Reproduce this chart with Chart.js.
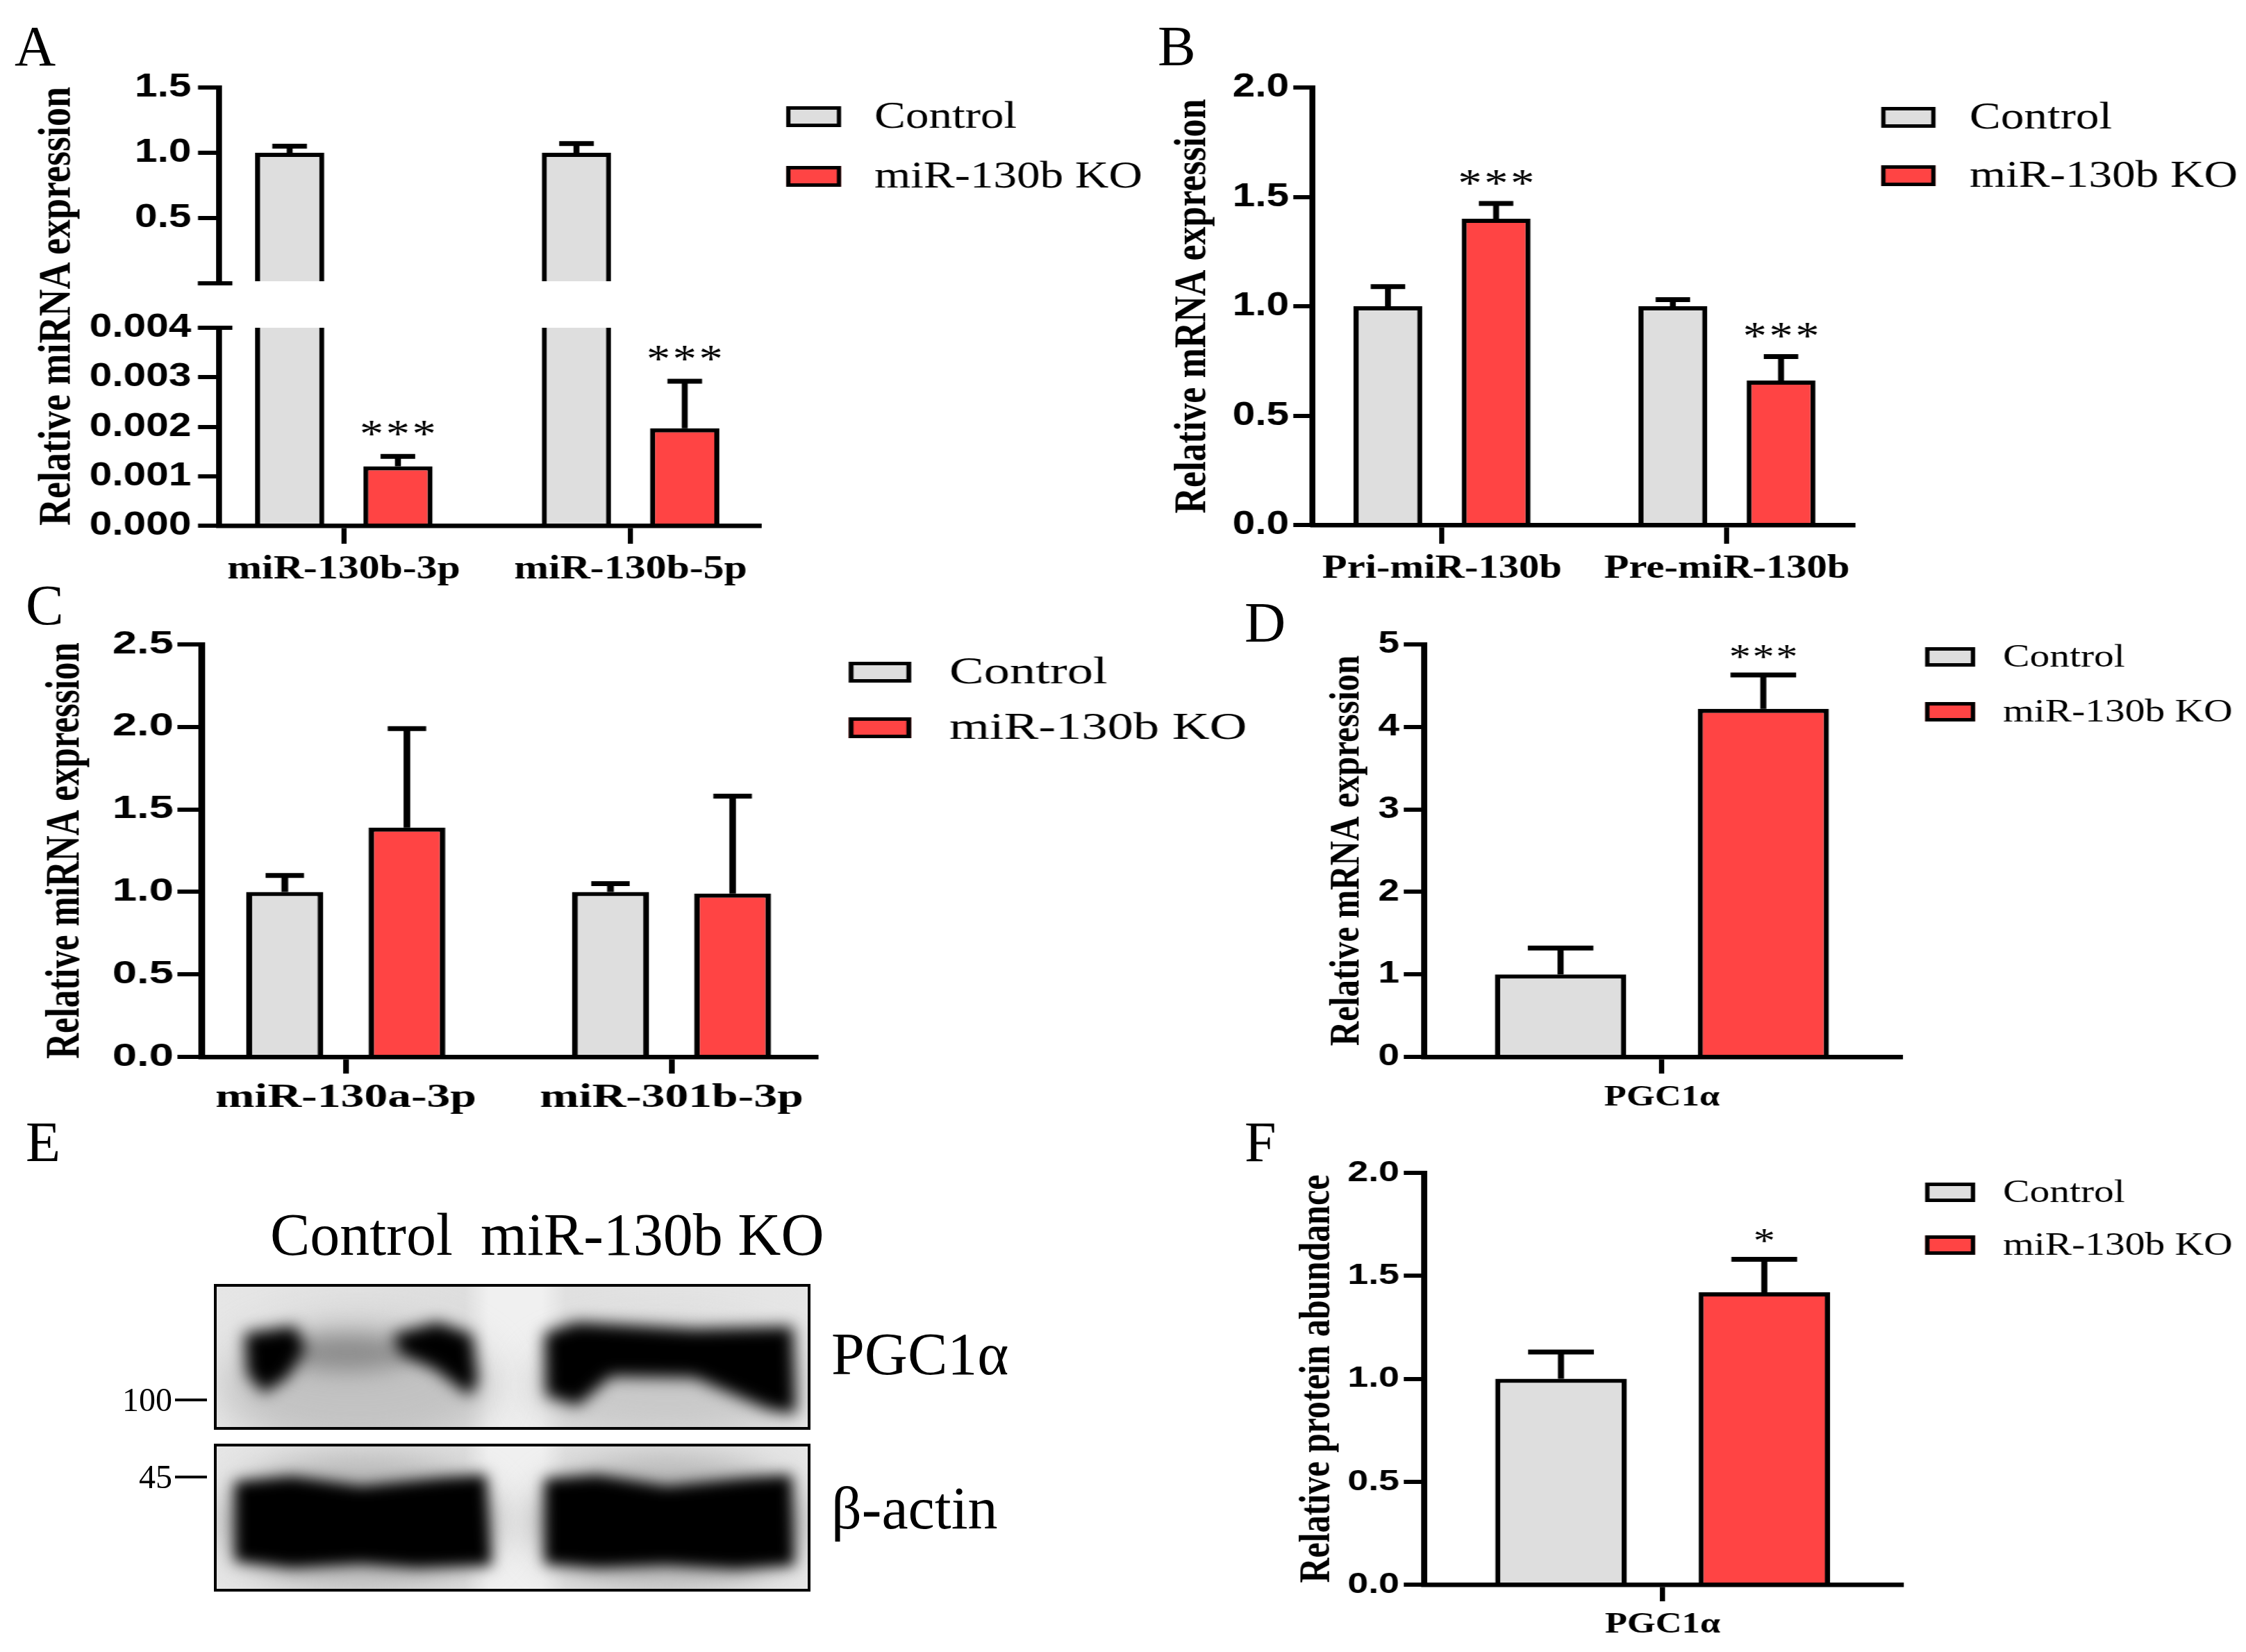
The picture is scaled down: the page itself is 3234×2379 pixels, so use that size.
<!DOCTYPE html>
<html>
<head>
<meta charset="utf-8">
<script src="https://cdn.jsdelivr.net/npm/chart.js@4.4.0/dist/chart.umd.min.js"></script>
<style>
  html, body { margin: 0; padding: 0; background: #fff; }
  #fig { position: relative; width: 3234px; height: 2379px; overflow: hidden; background: #fff; }
  .panel { position: absolute; transform-origin: 0 0; }
  .box { position: absolute; }
  .txt { position: absolute; font-family: 'Liberation Serif', 'Times New Roman', serif; color: #000; white-space: nowrap; }
</style>
</head>
<body>
<div id="fig"></div>
<script>
// ---- data ----
const groups = ['Control', 'miR-130b KO'];

// A: miRNA, broken axis
const aCats = ['miR-130b-3p', 'miR-130b-5p'];
const aControl = [1.0, 1.0];
const aControlErr = [0.05, 0.07];
const aKO = [0.0012, 0.00197];
const aKOErr = [0.0002, 0.00095];
const aSig = ['***', '***'];

// B: precursor mRNA
const bCats = ['Pri-miR-130b', 'Pre-miR-130b'];
const bControl = [1.0, 1.0];
const bControlErr = [0.09, 0.03];
const bKO = [1.40, 0.66];
const bKOErr = [0.07, 0.11];
const bSig = ['***', '***'];

// C: related miRNAs
const cCats = ['miR-130a-3p', 'miR-301b-3p'];
const cControl = [1.0, 1.0];
const cControlErr = [0.10, 0.05];
const cKO = [1.39, 0.99];
const cKOErr = [0.60, 0.59];

// D: PGC1a mRNA
const dCats = ['PGC1α'];
const dControl = [1.0];
const dControlErr = [0.32];
const dKO = [4.22];
const dKOErr = [0.41];
const dSig = ['***'];

// F: PGC1a protein
const fCats = ['PGC1α'];
const fControl = [1.0];
const fControlErr = [0.13];
const fKO = [1.42];
const fKOErr = [0.16];
const fSig = ['*'];

// axis ranges
const aUpperAxis = { min: 0, max: 1.5, step: 0.5 };
const aLowerAxis = { min: 0, max: 0.004, step: 0.001 };
const bAxis = { min: 0, max: 2.0, step: 0.5 };
const cAxis = { min: 0, max: 2.5, step: 0.5 };
const dAxis = { min: 0, max: 5, step: 1 };
const fAxis = { min: 0, max: 2.0, step: 0.5 };

const GRAY = '#dedede';
const RED = '#ff4444';
const SERIF = "'Liberation Serif', 'Times New Roman', serif";
const SANS = "'Liberation Sans', Arial, sans-serif";

Chart.defaults.animation = false;
Chart.defaults.color = '#000';

const fig = document.getElementById('fig');

function addText(str, x, cy, size, extra, parent) {
  const d = document.createElement('div');
  d.className = 'txt';
  d.textContent = str;
  d.style.left = x + 'px';
  d.style.top = (cy - size / 2) + 'px';
  d.style.fontSize = size + 'px';
  d.style.lineHeight = size + 'px';
  Object.assign(d.style, extra || {});
  (parent || fig).appendChild(d);
  return d;
}

function makePanel(P) {
  const p = document.createElement('div');
  p.className = 'panel';
  p.style.left = P.L + 'px';
  p.style.top = P.T + 'px';
  p.style.width = (P.W / P.S) + 'px';
  p.style.height = P.H + 'px';
  p.style.transform = 'scaleX(' + P.S + ')';
  fig.appendChild(p);
  return p;
}

// error bars + significance marks
const errorBarPlugin = {
  id: 'errorBars',
  afterDatasetsDraw(chart, args, o) {
    const ctx = chart.ctx;
    chart.data.datasets.forEach((ds, i) => {
      if (!ds.errors) return;
      const meta = chart.getDatasetMeta(i);
      const yScale = chart.scales[meta.yAxisID];
      meta.data.forEach((bar, j) => {
        const v = ds.data[j], e = ds.errors[j];
        if (v == null || e == null) return;
        const yTop = yScale.getPixelForValue(v + e);
        const half = bar.width * o.cap / 2;
        ctx.save();
        ctx.strokeStyle = '#000';
        ctx.lineWidth = o.width;
        ctx.beginPath();
        ctx.moveTo(bar.x, bar.y);
        ctx.lineTo(bar.x, yTop);
        ctx.moveTo(bar.x - half, yTop);
        ctx.lineTo(bar.x + half, yTop);
        ctx.stroke();
        const mark = ds.marks && ds.marks[j];
        if (mark) {
          ctx.fillStyle = '#000';
          ctx.font = o.markSize + 'px ' + SERIF;
          ctx.textAlign = 'left';
          ctx.textBaseline = 'alphabetic';
          const chars = mark.split('');
          const cw = chars.map(ch => ctx.measureText(ch).width);
          const total = cw.reduce((s, w) => s + w, 0) + o.markSpace * (chars.length - 1);
          let x = bar.x - total / 2;
          chars.forEach((ch, k) => {
            ctx.fillText(ch, x, yTop - o.markGap);
            x += cw[k] + o.markSpace;
          });
        }
        ctx.restore();
      });
    });
  }
};

// legend drawn beside the plot
const legendPlugin = {
  id: 'legendBox',
  afterDraw(chart, args, o) {
    const ctx = chart.ctx;
    chart.data.datasets.forEach((ds, i) => {
      const cy = o.ys[i];
      ctx.save();
      ctx.fillStyle = ds.backgroundColor;
      ctx.fillRect(o.x, cy - o.h / 2, o.w, o.h);
      ctx.lineWidth = 5;
      ctx.strokeStyle = '#000';
      ctx.strokeRect(o.x + 2.5, cy - o.h / 2 + 2.5, o.w - 5, o.h - 5);
      ctx.fillStyle = '#000';
      ctx.font = o.size + 'px ' + SERIF;
      ctx.textAlign = 'left';
      ctx.textBaseline = 'middle';
      ctx.fillText(ds.label, o.tx, cy + 2);
      ctx.restore();
    });
  }
};

// break marks on the split axis of panel A
const breakPlugin = {
  id: 'axisBreak',
  afterDraw(chart, args, o) {
    const a = chart.chartArea, ctx = chart.ctx;
    const y = o.edge === 'bottom' ? a.bottom : a.top;
    ctx.save();
    ctx.strokeStyle = '#000';
    ctx.lineWidth = 6;
    ctx.beginPath();
    ctx.moveTo(a.left - o.left, y);
    ctx.lineTo(a.left + o.right, y);
    ctx.stroke();
    ctx.restore();
  }
};

function makeChart(panel, P, c) {
  const S = P.S;
  const holder = document.createElement('div');
  holder.className = 'box';
  holder.style.left = '0px';
  holder.style.top = (c.top - P.T) + 'px';
  holder.style.width = (P.W / S) + 'px';
  holder.style.height = c.h + 'px';
  const canvas = document.createElement('canvas');
  holder.appendChild(canvas);
  panel.appendChild(holder);

  const xH = c.showX ? c.xH : 0;
  const yW = (c.area.l - P.L) / S;
  const padR = (P.L + P.W - c.area.r) / S;
  const padT = c.area.t - c.top;
  const padB = c.top + c.h - c.area.b - xH;

  // where the category centres sit along the axis (full-size pixels)
  let mapStart = null, mapRange = null;
  if (c.centers) {
    const span = c.centers[1] - c.centers[0];
    mapStart = -(c.centers[0] - c.area.l) / span;
    mapRange = (c.area.r - c.area.l) / span;
  }

  const legend = c.legend ? {
    x: (c.legend.x - P.L) / S, w: c.legend.w / S, h: c.legend.h,
    ys: c.legend.ys.map(y => y - c.top), tx: (c.legend.tx - P.L) / S, size: c.legend.size
  } : false;

  const title = c.title ? {
    display: true, text: c.title.text, color: '#000',
    font: { family: SERIF, size: c.title.size, weight: 'bold', lineHeight: 1 },
    padding: { top: (c.title.x - P.L) / S - c.title.size / 2, bottom: 0 }
  } : { display: false };

  return new Chart(canvas, {
    type: 'bar',
    data: { labels: c.cats, datasets: c.datasets },
    options: {
      responsive: true,
      maintainAspectRatio: false,
      layout: { padding: { left: 0, right: padR, top: padT, bottom: padB } },
      datasets: {
        bar: { categoryPercentage: c.cp, barPercentage: c.bp, borderWidth: 6, borderColor: '#000', clip: 0 }
      },
      plugins: {
        legend: { display: false },
        tooltip: { enabled: false },
        legendBox: legend,
        errorBars: { cap: c.cap, width: 7, markSize: c.markSize || 56, markSpace: c.markSpace || 0, markGap: c.markGap || 10 },
        axisBreak: c.brk ? { edge: c.brk, left: c.yTl, right: 16 } : false
      },
      scales: {
        x: {
          display: c.showX,
          offset: true,
          z: 1,
          grid: { display: true, drawOnChartArea: false, drawTicks: true, offset: false,
                  tickLength: c.xTl, tickWidth: 6, tickColor: '#000', color: '#000', lineWidth: 6 },
          border: { display: true, color: '#000', width: 6.5 },
          ticks: { autoSkip: false, maxRotation: 0, color: '#000', padding: c.xPad,
                   font: { family: SERIF, size: c.catSize, weight: 'bold', lineHeight: 1 } },
          afterBuildTicks: s => {
            if (mapStart !== null) { s._startValue = mapStart; s._valueRange = mapRange; }
          },
          afterFit: s => { s.height = xH; }
        },
        y: {
          min: c.axis.min, max: c.axis.max, z: 1,
          grid: { display: true, drawOnChartArea: false, drawTicks: true,
                  tickLength: c.yTl, tickWidth: 6, tickColor: '#000', color: '#000', lineWidth: 6 },
          border: { display: true, color: '#000', width: 7 },
          ticks: { stepSize: c.axis.step, color: '#000', padding: c.yPad, callback: c.fmt,
                   font: { family: SANS, size: c.tickSize, weight: 'bold', lineHeight: 1 } },
          title: title,
          afterFit: s => { s.width = yW; }
        }
      }
    },
    plugins: [errorBarPlugin, legendPlugin, breakPlugin]
  });
}

function dsPair(ctrl, ctrlErr, ko, koErr, sig) {
  return [
    { label: groups[0], data: ctrl, errors: ctrlErr, backgroundColor: GRAY },
    { label: groups[1], data: ko, errors: koErr, marks: sig, backgroundColor: RED }
  ];
}

// ---- Panel A (split axis: two stacked plots) ----
const PA = { L: 0, T: 0, W: 1700, H: 880, S: 1.22 };
const pa = makePanel(PA);
const aCommon = {
  cats: aCats, centers: [495, 908], cp: 0.755, bp: 0.64, cap: 0.5,
  tickSize: 48, catSize: 49, xTl: 26, xPad: 12.5, yTl: 24.5, yPad: 8,
  markSize: 56, markSpace: 3, markGap: 13
};
makeChart(pa, PA, Object.assign({}, aCommon, {
  top: 0, h: 440, area: { l: 315, r: 1093, t: 126, b: 419 }, showX: false,
  datasets: [
    { label: groups[0], data: aControl, errors: aControlErr, backgroundColor: GRAY },
    { label: groups[1], data: aCats.map(() => null), backgroundColor: RED }
  ],
  axis: aUpperAxis, fmt: v => (v === 0 ? '' : v.toFixed(1)), brk: 'bottom',
  legend: { x: 1132, w: 79, h: 30, ys: [168, 254], tx: 1259, size: 55 }
}));
makeChart(pa, PA, Object.assign({}, aCommon, {
  top: 440, h: 440, area: { l: 315, r: 1093, t: 466, b: 757 }, showX: true, xH: 100,
  datasets: [
    { label: groups[0], data: aControl, backgroundColor: GRAY },
    { label: groups[1], data: aKO, errors: aKOErr, marks: aSig, backgroundColor: RED }
  ],
  axis: aLowerAxis, fmt: v => v.toFixed(3), brk: 'top'
}));
addText('Relative miRNA expression', 78 / PA.S, 441, 54,
  { fontWeight: 'bold', transform: 'translate(-50%, 0) rotate(-90deg)', transformOrigin: '50% 50%' }, pa);

// ---- Panel B ----
const PB = { L: 1640, T: 0, W: 1594, H: 880, S: 1.22 };
makeChart(makePanel(PB), PB, {
  top: 0, h: 880, area: { l: 1890, r: 2667, t: 126, b: 756 }, showX: true, xH: 100,
  cats: bCats, centers: [2076, 2486], datasets: dsPair(bControl, bControlErr, bKO, bKOErr, bSig),
  axis: bAxis, fmt: v => v.toFixed(1),
  cp: 0.759, bp: 0.637, cap: 0.5, tickSize: 48, catSize: 48, xTl: 27, xPad: 12.5, yTl: 23, yPad: 5,
  markSize: 56, markSpace: 3, markGap: 10,
  title: { text: 'Relative mRNA expression', x: 1719, size: 52 },
  legend: { x: 2708, w: 78, h: 30, ys: [169, 253], tx: 2835, size: 55 }
});

// ---- Panel C ----
const PC = { L: 0, T: 880, W: 1800, H: 760, S: 1.38 };
makeChart(makePanel(PC), PC, {
  top: 880, h: 760, area: { l: 290, r: 1175, t: 928, b: 1522 }, showX: true, xH: 100,
  cats: cCats, centers: [498, 967], datasets: dsPair(cControl, cControlErr, cKO, cKOErr, null),
  axis: cAxis, fmt: v => v.toFixed(1),
  cp: 0.75, bp: 0.63, cap: 0.5, tickSize: 46, catSize: 49, xTl: 24, xPad: 10.5, yTl: 25, yPad: 4,
  title: { text: 'Relative miRNA expression', x: 95, size: 51 },
  legend: { x: 1222, w: 90, h: 30, ys: [968, 1048], tx: 1367, size: 54 }
});

// ---- Panel D ----
const PD = { L: 1780, T: 880, W: 1454, H: 760, S: 1.25 };
makeChart(makePanel(PD), PD, {
  top: 880, h: 760, area: { l: 2050, r: 2736, t: 928, b: 1522 }, showX: true, xH: 100,
  cats: dCats, datasets: dsPair(dControl, dControlErr, dKO, dKOErr, dSig),
  axis: dAxis, fmt: v => String(v),
  cp: 0.851, bp: 0.647, cap: 0.5, tickSize: 44, catSize: 42, xTl: 24, xPad: 14, yTl: 23, yPad: 5,
  markSize: 50, markSpace: 2, markGap: 10,
  title: { text: 'Relative mRNA expression', x: 1941, size: 49 },
  legend: { x: 2772, w: 72, h: 28, ys: [946, 1025], tx: 2884, size: 46 }
});

// ---- Panel F ----
const PF = { L: 1780, T: 1640, W: 1454, H: 739, S: 1.25 };
makeChart(makePanel(PF), PF, {
  top: 1640, h: 739, area: { l: 2050, r: 2738, t: 1689, b: 2282 }, showX: true, xH: 90,
  cats: fCats, datasets: dsPair(fControl, fControlErr, fKO, fKOErr, fSig),
  axis: fAxis, fmt: v => v.toFixed(1),
  cp: 0.851, bp: 0.647, cap: 0.5, tickSize: 43, catSize: 42, xTl: 24, xPad: 13, yTl: 23, yPad: 5,
  markSize: 50, markSpace: 2, markGap: 11,
  title: { text: 'Relative protein abundance', x: 1898, size: 50 },
  legend: { x: 2772, w: 72, h: 28, ys: [1717, 1793], tx: 2884, size: 46 }
});

// ---- Panel E: western blot picture ----
function drawBlot() {
  const oy = 1600;
  const c = document.createElement('canvas');
  c.width = 1300; c.height = 760;
  c.style.position = 'absolute'; c.style.left = '0px'; c.style.top = oy + 'px';
  fig.appendChild(c);
  const g = c.getContext('2d');
  const boxes = [[310, 1851, 1165, 2057], [310, 2081, 1165, 2290]];

  function poly(pts, color, blur) {
    g.save();
    g.filter = 'blur(' + blur + 'px)';
    g.fillStyle = color;
    g.beginPath();
    pts.forEach((p, i) => (i ? g.lineTo(p[0], p[1] - oy) : g.moveTo(p[0], p[1] - oy)));
    g.closePath();
    g.fill();
    g.restore();
  }
  function blob(cx, cy, rx, ry, color, blur) {
    g.save();
    g.filter = 'blur(' + blur + 'px)';
    g.fillStyle = color;
    g.beginPath();
    g.ellipse(cx, cy - oy, rx, ry, 0, 0, Math.PI * 2);
    g.fill();
    g.restore();
  }

  boxes.forEach(([x0, y0, x1, y1]) => {
    g.save();
    g.beginPath();
    g.rect(x0, y0 - oy, x1 - x0, y1 - y0);
    g.clip();
    const grd = g.createLinearGradient(x0, 0, x1, 0);
    grd.addColorStop(0, '#e6e6e6');
    grd.addColorStop(0.42, '#dedede');
    grd.addColorStop(0.46, '#f0f0f0');
    grd.addColorStop(0.55, '#f0f0f0');
    grd.addColorStop(0.59, '#e0e0e0');
    grd.addColorStop(1, '#e6e6e6');
    g.fillStyle = grd;
    g.fillRect(x0, y0 - oy, x1 - x0, y1 - y0);
    g.restore();
  });

  // upper blot (PGC1a)
  g.save();
  g.beginPath();
  g.rect(310, 1851 - oy, 855, 206);
  g.clip();
  blob(515, 1995, 195, 90, '#c2c2c2', 28);
  blob(960, 1995, 195, 75, '#c8c8c8', 28);
  blob(500, 1948, 95, 26, '#8c8c8c', 16);
  poly([[352, 1920], [425, 1910], [440, 1942], [414, 1984], [380, 2006], [356, 1980]], '#000', 11);
  poly([[566, 1922], [630, 1904], [680, 1922], [688, 1990], [676, 2010], [626, 1972], [576, 1950]], '#000', 11);
  poly([[784, 1920], [830, 1904], [1000, 1914], [1142, 1910], [1146, 2036], [1108, 2030],
        [1000, 1984], [880, 1982], [832, 2024], [786, 2010]], '#000', 11);
  g.restore();

  // lower blot (beta-actin)
  g.save();
  g.beginPath();
  g.rect(310, 2081 - oy, 855, 209);
  g.clip();
  blob(518, 2192, 205, 95, '#b4b4b4', 24);
  blob(962, 2192, 200, 95, '#b4b4b4', 24);
  poly([[338, 2134], [420, 2126], [520, 2140], [640, 2128], [700, 2124], [708, 2254],
        [600, 2258], [520, 2252], [420, 2258], [338, 2248]], '#000', 10);
  poly([[784, 2130], [860, 2124], [960, 2140], [1080, 2128], [1140, 2124], [1144, 2254],
        [1060, 2260], [960, 2254], [860, 2258], [784, 2252]], '#000', 10);
  g.restore();

  g.strokeStyle = '#000';
  g.lineWidth = 4;
  boxes.forEach(([x0, y0, x1, y1]) => g.strokeRect(x0, y0 - oy, x1 - x0, y1 - y0));
  g.beginPath();
  g.moveTo(252, 2016 - oy); g.lineTo(298, 2016 - oy);
  g.moveTo(252, 2127 - oy); g.lineTo(298, 2127 - oy);
  g.stroke();
}
drawBlot();

addText('Control', 389, 1778, 86);
addText('miR-130b KO', 692, 1778, 86);
addText('PGC1α', 1197, 1950, 86);
addText('β-actin', 1197, 2172, 86);
addText('100', 0, 2016, 48, { left: 'auto', right: (3234 - 248) + 'px' });
addText('45', 0, 2127, 48, { left: 'auto', right: (3234 - 248) + 'px' });

// panel letters
addText('A', 21, 67, 82);
addText('B', 1667, 67, 82);
addText('C', 37, 872, 82);
addText('D', 1792, 897, 82);
addText('E', 37, 1645, 82);
addText('F', 1792, 1645, 82);
</script>
</body>
</html>
